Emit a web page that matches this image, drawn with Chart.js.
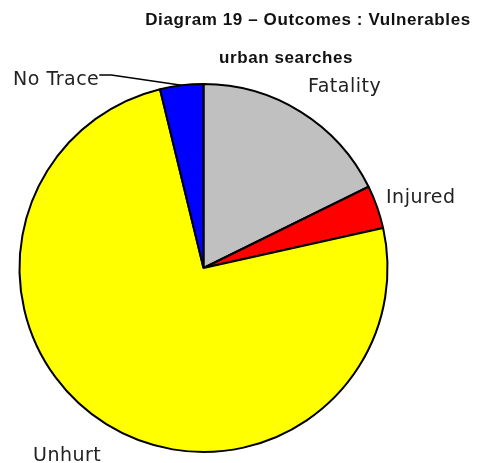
<!DOCTYPE html>
<html>
<head>
<meta charset="utf-8">
<script src="https://cdn.jsdelivr.net/npm/chart.js@4.4.0/dist/chart.umd.min.js"></script>
<style>
  html, body { margin: 0; padding: 0; background: #fff; }
  #wrap { width: 489px; height: 463px; }
</style>
</head>
<body>
<div id="wrap"><canvas id="grafico" width="489" height="463"></canvas></div>
<script>
    // DADOS
    const categorias = ['Fatality', 'Injured', 'Unhurt', 'No Trace'];
    const valores = [14, 3, 59, 3];
    const cores = ['#C0C0C0', '#FF0000', '#FFFF00', '#0000FF'];
    const titulo = ['Diagram 19 \u2013 Outcomes : Vulnerables', 'urban searches'];

    // posicao dos rotulos (texto)
    const posRotulos = [
        { x: 308, y: 92 },
        { x: 386, y: 203 },
        { x: 33, y: 461 },
        { x: 13, y: 85 }
    ];

    var textos = {
        id: 'textos',
        afterDraw(chart) {
            var ctx = chart.ctx;
            ctx.save();
            ctx.fillStyle = '#111';
            ctx.textBaseline = 'alphabetic';
            ctx.font = 'bold 17px "Liberation Sans"';
            ctx.letterSpacing = '0.6px';
            ctx.textAlign = 'center';
            ctx.fillText(titulo[0], 308, 25);
            ctx.fillText(titulo[1], 286, 63);

            ctx.font = '19px "DejaVu Sans"';
            ctx.letterSpacing = '0.5px';
            ctx.fillStyle = '#222';
            ctx.textAlign = 'left';
            categorias.forEach(function (c, i) {
                ctx.fillText(c, posRotulos[i].x, posRotulos[i].y);
            });

            // linha do No Trace
            var a = chart.getDatasetMeta(0).data[3];
            var meio = (a.startAngle + a.endAngle) / 2;
            var ex = a.x + a.outerRadius * Math.cos(meio);
            var ey = a.y + a.outerRadius * Math.sin(meio);
            var w = ctx.measureText('No Trace').width;
            ctx.strokeStyle = '#000';
            ctx.lineWidth = 1.5;
            ctx.beginPath();
            ctx.moveTo(posRotulos[3].x + w, 75);
            ctx.lineTo(posRotulos[3].x + w + 12, 75);
            ctx.lineTo(ex, ey);
            ctx.stroke();
            ctx.restore();
        }
    };

    var graficoPizza = new Chart(document.getElementById('grafico').getContext('2d'), {
        type: 'pie',
        data: {
            labels: categorias,
            datasets: [{
                data: valores,
                backgroundColor: cores,
                borderColor: '#000',
                borderWidth: 2
            }]
        },
        options: {
            responsive: false,
            animation: false,
            layout: { padding: { left: 18, right: 100, top: 83, bottom: 10 } },
            plugins: {
                legend: { display: false },
                tooltip: { enabled: false },
                title: { display: false }
            }
        },
        plugins: [textos]
    });
</script>
</body>
</html>
